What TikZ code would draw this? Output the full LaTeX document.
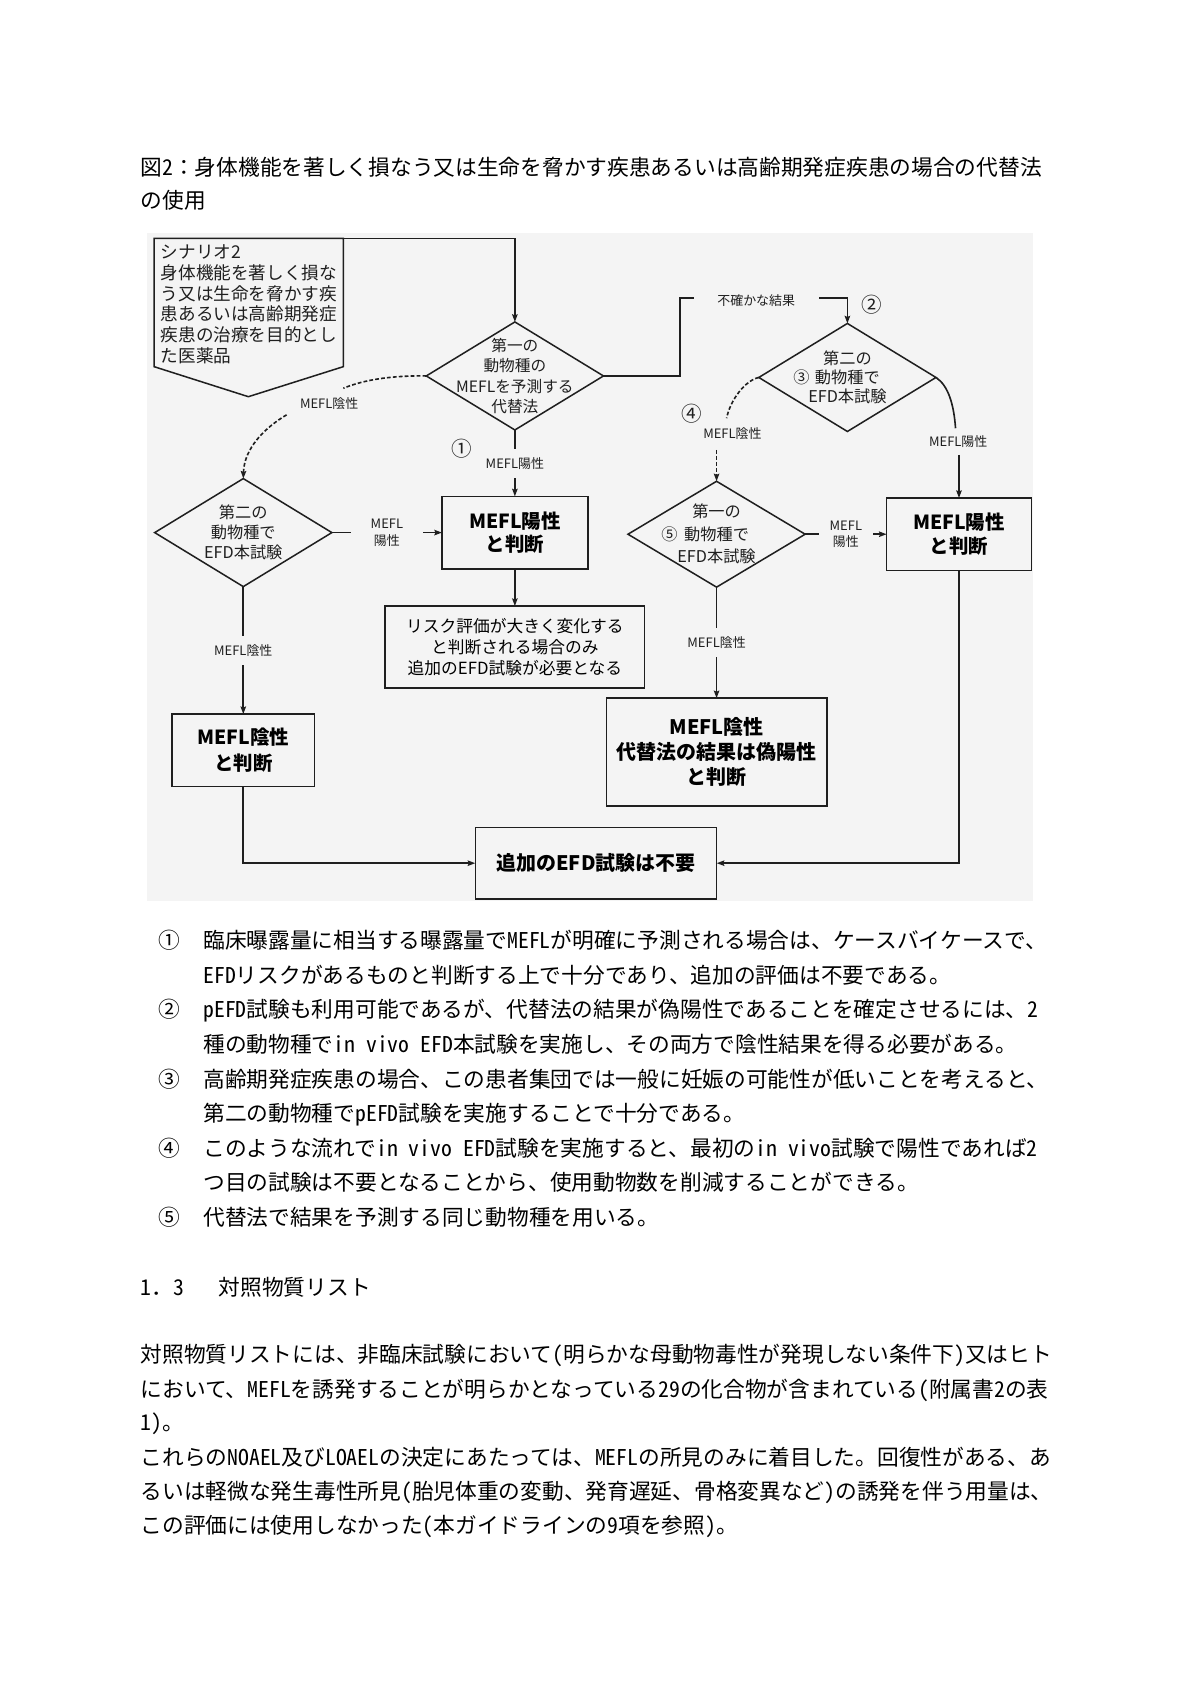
\documentclass[tikz,border=0pt]{standalone}
\usepackage{fontspec}
\setmainfont{Noto Sans CJK JP}
\newfontfamily\jp{Noto Sans CJK JP}
\newfontfamily\jpbody[RawFeature=+hwid]{Noto Sans CJK JP}
\usetikzlibrary{arrows.meta,shapes.geometric}
\definecolor{bgc}{gray}{0.955}
\definecolor{ink}{gray}{0.12}
\tikzset{
  ln/.style={line width=1.5pt, draw=ink},
  arr/.style={ln, -{Stealth[length=7pt,width=5pt,inset=1pt]}},
  dsh/.style={dash pattern=on 3.5pt off 2pt},
  dia/.style={diamond, draw=ink, line width=1.4pt, minimum width=164pt, minimum height=100pt, inner sep=0pt, outer sep=0pt},
  box/.style={rectangle, draw=ink, line width=1.4pt, inner sep=0pt, outer sep=0pt, align=center},
  dtext/.style={inner sep=0pt, align=center, text=ink},
  lab/.style={fill=bgc, inner sep=1pt, text=ink, align=center, font=\jp\fontsize{12}{15.3}\selectfont},
  circ/.style={inner sep=0pt, text=ink, font=\jp\fontsize{19}{19}\selectfont},
  body/.style={anchor=west, inner sep=0pt, text height=17.3pt, text depth=2.8pt, font=\jpbody\fontsize{20.1}{24}\selectfont},
  num/.style={body, anchor=center}
}
\begin{document}
\begin{tikzpicture}[x=1pt,y=-1pt]
\useasboundingbox (0,0) rectangle (1093,1569);
\fill[white] (0,0) rectangle (1093,1569);

% title
\node[body] (t1) at (130,155) {図2{\jp ：}身体機能を著しく損なう又は生命を脅かす疾患あるいは高齢期発症疾患の場合の代替法};
\node[body] (t2) at (130,186) {の使用};

% flowchart background
\fill[bgc] (136,216) rectangle (956.5,834);

% scenario pentagon
\coordinate (pTR) at (317.8,220.6);
\draw[ln, line width=1.4pt] (142.6,220.6) -- (pTR) -- (317.8,339.4) -- (229.9,367.2) -- (142.6,339.4) -- cycle;
\node[anchor=west, align=left, inner sep=0pt, text=ink, font=\jp\fontsize{16.3}{19.2}\selectfont] (sc) at (148.7,281.7)
  {シナリオ2\\身体機能を著しく損な\\う又は生命を脅かす疾\\患あるいは高齢期発症\\疾患の治療を目的とし\\た医薬品};

% diamonds
\node[dia] (d1) at (476.6,348) {};
\node[dtext, font=\jp\fontsize{14.5}{19}\selectfont] (d1t) at (d1.center) {第一の\\動物種の\\MEFLを予測する\\代替法};
\node[dia] (d2) at (225.2,493) {};
\node[dtext, font=\jp\fontsize{15}{18.5}\selectfont] (d2t) at (d2.center) {第二の\\動物種で\\EFD本試験};
\node[dia] (d3) at (784.4,349.4) {};
\node[dtext, font=\jp\fontsize{15}{17.5}\selectfont] (d3t) at (d3.center) {第二の\\\llap{③\hspace{5pt}}動物種で\\EFD本試験};
\node[dia, minimum height=98pt] (d5) at (663.3,494.5) {};
\node[dtext, font=\jp\fontsize{15}{20.8}\selectfont] (d5t) at (d5.center) {第一の\\\llap{⑤\hspace{6pt}}動物種で\\EFD本試験};

% boxes
\node[box, minimum width=135pt, minimum height=67pt, font=\jp\bfseries\fontsize{18}{22}\selectfont] (b1) at (476.6,493) {MEFL陽性\\と判断};
\node[box, minimum width=134pt, minimum height=67pt, font=\jp\bfseries\fontsize{18}{22}\selectfont] (b4) at (887.7,494.5) {MEFL陽性\\と判断};
\node[box, minimum width=132pt, minimum height=67pt, font=\jp\bfseries\fontsize{18}{24}\selectfont] (b2) at (225.2,694.5) {MEFL陰性\\と判断};
\node[box, minimum width=204pt, minimum height=100pt, font=\jp\bfseries\fontsize{18.5}{23}\selectfont] (b5) at (663.3,696.3) {MEFL陰性\\代替法の結果は偽陽性\\と判断};
\node[box, minimum width=240pt, minimum height=76pt, font=\jp\fontsize{15.5}{19.3}\selectfont] (r) at (476.6,599) {リスク評価が大きく変化する\\と判断される場合のみ\\追加のEFD試験が必要となる};
\node[box, minimum width=223.5pt, minimum height=66pt, font=\jp\bfseries\fontsize{18.5}{22}\selectfont] (fin) at (551.7,799) {追加のEFD試験は不要};

% connectors
\draw[arr] (pTR) -| (d1.north);
\draw[arr] (d1.south) -- node[lab, inner ysep=8pt] (l2) {MEFL陽性} (b1.north);
\coordinate (k1) at (629.5,276);
\draw[arr] (d1.east) -| (k1) -- (k1 -| d3.north) -- (d3.north);
\node[lab, inner xsep=22pt, inner ysep=3pt] (lk) at (700,278.5) {不確かな結果};
\draw[arr] (b1.south) -- (r.north);

\coordinate (c1) at (317.8,359.4);
\coordinate (c2) at (265.3,384);
\draw[ln, dsh] (d1.west) .. controls (365,347.5) and (338,351) .. (c1);
\draw[arr, dsh] (c2) .. controls (245,396) and (226,415) .. (d2.north);
\node[lab, fill=none] (l1) at (304.7,373.3) {MEFL陰性};

\draw[arr] (d2.east) -- node[lab, inner xsep=18pt] (l3) {MEFL\\陽性} (b1.west);
\draw[arr] (d2.south) -- node[lab, inner ysep=8pt] (l4) {MEFL陰性} (b2.north);
\draw[arr] (b2.south) |- (fin.west);
\draw[arr] (b4.south) |- (fin.east);

\coordinate (c3) at (672.6,387.1);
\coordinate (c4) at (663.3,416.5);
\draw[ln, dsh] (d3.west) .. controls (690,352) and (676,370) .. (c3);
\draw[arr, dsh] (c4) -- (d5.north);
\node[lab, fill=none] (l5) at (678,401.7) {MEFL陰性};

\coordinate (c5) at (884.5,396.4);
\coordinate (c6) at (887.7,421);
\draw[ln] (d3.east) .. controls (878,357) and (883,375) .. (c5);
\draw[arr] (c6) -- (b4.north);
\node[lab, fill=none] (l6) at (887,408.8) {MEFL陽性};

\draw[arr] (d5.east) -- node[lab, inner xsep=10pt] (l7) {MEFL\\陽性} (b4.west);
\draw[arr] (d5.south) -- node[lab, inner ysep=8pt] (l8) {MEFL陰性} (b5.north);

% circled numbers in chart
\node[circ] (m1) at (427.3,415) {①};
\node[circ] (m2) at (806.7,282.3) {②};
\node[circ] (m4) at (640.2,382.5) {④};

% notes
\node[num] (n1) at (157,871) {①};
\node[body] (s1a) at (188,871) {臨床曝露量に相当する曝露量でMEFLが明確に予測される場合は、ケースバイケースで、};
\node[body] (s1b) at (188,903) {EFDリスクがあるものと判断する上で十分であり、追加の評価は不要である。};
\node[num] (n2) at (157,935) {②};
\node[body] (s2a) at (188,935) {pEFD試験も利用可能であるが、代替法の結果が偽陽性であることを確定させるには、2};
\node[body] (s2b) at (188,967) {種の動物種でin vivo EFD本試験を実施し、その両方で陰性結果を得る必要がある。};
\node[num] (n3) at (157,999) {③};
\node[body] (s3a) at (188,999) {高齢期発症疾患の場合、この患者集団では一般に妊娠の可能性が低いことを考えると、};
\node[body] (s3b) at (188,1031) {第二の動物種でpEFD試験を実施することで十分である。};
\node[num] (n4) at (157,1063) {④};
\node[body] (s4a) at (188,1063) {このような流れでin vivo EFD試験を実施すると、最初のin vivo試験で陽性であれば2};
\node[body] (s4b) at (188,1095) {つ目の試験は不要となることから、使用動物数を削減することができる。};
\node[num] (n5) at (157,1127) {⑤};
\node[body] (s5a) at (188,1127) {代替法で結果を予測する同じ動物種を用いる。};

% section
\node[body] (h13) at (130,1192) {1{\jp ．}3\hspace{1.6em}対照物質リスト};
\node[body] (p1) at (130,1254) {対照物質リストには、非臨床試験において(明らかな母動物毒性が発現しない条件下)又はヒト};
\node[body] (p2) at (130,1286) {において、MEFLを誘発することが明らかとなっている29の化合物が含まれている(附属書2の表};
\node[body] (p3) at (130,1317) {1)。};
\node[body] (p4) at (130,1349) {これらのNOAEL及びLOAELの決定にあたっては、MEFLの所見のみに着目した。回復性がある、あ};
\node[body] (p5) at (130,1381) {るいは軽微な発生毒性所見(胎児体重の変動、発育遅延、骨格変異など)の誘発を伴う用量は、};
\node[body] (p6) at (130,1412) {この評価には使用しなかった(本ガイドラインの9項を参照)。};
\end{tikzpicture}
\end{document}
